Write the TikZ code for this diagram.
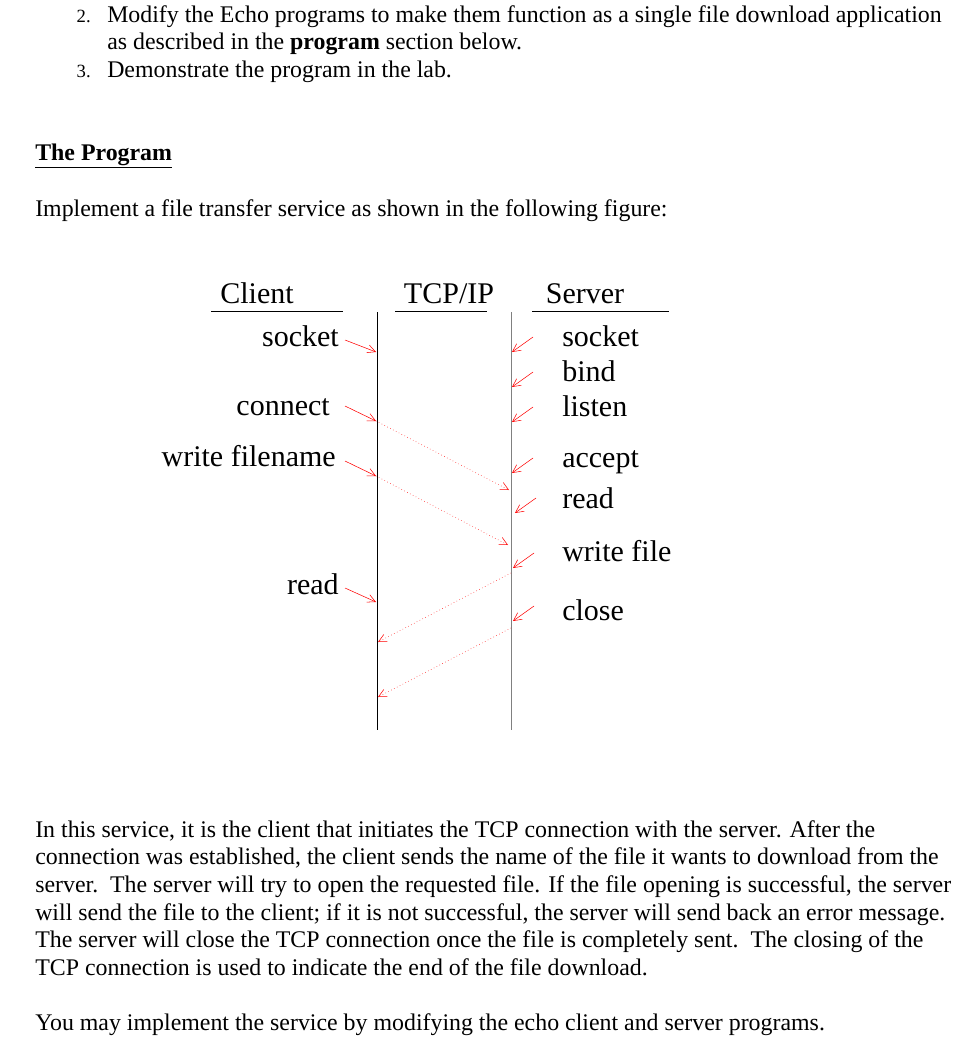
\documentclass[tikz,border=0pt]{standalone}
\usepackage{fontspec}
\setmainfont{Liberation Serif}
\usetikzlibrary{arrows.meta}
\begin{document}
\begin{tikzpicture}[x=0.75pt,y=-0.75pt,
  body/.style={anchor=base west,inner sep=0pt,font=\fontsize{17.9}{20}\selectfont},
  num/.style={anchor=base east,inner sep=0pt,font=\fontsize{14}{16}\selectfont},
  lbl/.style={inner sep=0pt,font=\fontsize{22.5}{26}\selectfont},
  lblR/.style={lbl,anchor=base east},
  lblL/.style={lbl,anchor=base west},
  ra/.style={red,line width=0.4pt,-{Straight Barb[length=6pt,width=6pt]}},
  rd/.style={red,line width=0.4pt,dotted,-{Straight Barb[length=6pt,width=6pt]}}]
\useasboundingbox (0,0) rectangle (962,1042);
% header text
\node[num] (n2) at (91,22) {2.};
\node[body] (t1) at (107,22) {Modify the Echo programs to make them function as a single file download application};
\node[body] (t2) at (107,49) {as described in the \textbf{program} section below.};
\node[num] (n3) at (91,77) {3.};
\node[body] (t3) at (107,77) {Demonstrate the program in the lab.};
\node[body] (h) at (35,160) {\textbf{\underline{The Program}}};
\node[body] (t4) at (35,216) {Implement a file transfer service as shown in the following figure:};
% diagram headers
\node[lbl,anchor=base] (cl) at (257,303) {Client};
\node[lbl,anchor=base] (tcp) at (449,303) {TCP/IP};
\node[lbl,anchor=base] (sv) at (585,303) {Server};
\draw[line width=0.5pt] (211,311) -- (343,311) (395,311) -- (487,311) (532,311) -- (669,311);
\coordinate (c0) at (377,312); \coordinate (c1) at (377,730);
\coordinate (s0) at (511,312); \coordinate (s1) at (511,730);
\draw[line width=0.6pt] (c0) -- (c1);
\draw[gray,line width=0.6pt] (s0) -- (s1);
% client labels
\node[lblR] (csock) at (339,346) {socket};
\node[lblR] (ccon) at (330,415) {connect};
\node[lblR] (cwf) at (336,466) {write filename};
\node[lblR] (crd) at (339,594) {read};
\coordinate (ca1) at (376,352); \coordinate (ca2) at (376,421);
\coordinate (ca3) at (376,476); \coordinate (ca4) at (376,602);
\draw[ra] (345,340) -- (ca1);
\draw[ra] (345,406) -- (ca2);
\draw[ra] (345,461) -- (ca3);
\draw[ra] (345,588) -- (ca4);
% server labels
\node[lblL] (ssock) at (562,346) {socket};
\node[lblL] (sbind) at (562,381) {bind};
\node[lblL] (slist) at (562,416) {listen};
\node[lblL] (sacc) at (562,467) {accept};
\node[lblL] (sread) at (562,508) {read};
\node[lblL] (swf) at (562,561) {write file};
\node[lblL] (sclo) at (562,620) {close};
\draw[ra] (533,337) -- (512,352);
\draw[ra] (533,372) -- (512,387);
\draw[ra] (533,407) -- (512,422);
\draw[ra] (533,458) -- (512,473);
\draw[ra] (536,498) -- (515,513);
\draw[ra] (534,553) -- (513,568);
\draw[ra] (534,606) -- (513,621);
% dotted messages
\coordinate (m1) at (509,490); \coordinate (m2) at (508,545);
\coordinate (m3) at (511,573); \coordinate (m4) at (511,628);
\coordinate (r1) at (378,642); \coordinate (r2) at (378,697);
\draw[rd] (ca2) -- (m1);
\draw[rd] (ca3) -- (m2);
\draw[rd] (m3) -- (r1);
\draw[rd] (m4) -- (r2);
% bottom paragraph
\node[body] (p1) at (35,837) {In this service, it is the client that initiates the TCP connection with the server. After the};
\node[body] (p2) at (35,864) {connection was established, the client sends the name of the file it wants to download from the};
\node[body] (p3) at (35,892) {server.\ \ The server will try to open the requested file. If the file opening is successful, the server};
\node[body] (p4) at (35,920) {will send the file to the client; if it is not successful, the server will send back an error message.};
\node[body] (p5) at (35,947) {The server will close the TCP connection once the file is completely sent.\ \ The closing of the};
\node[body] (p6) at (35,975) {TCP connection is used to indicate the end of the file download.};
\node[body] (p7) at (35,1030) {You may implement the service by modifying the echo client and server programs.};
\end{tikzpicture}
\end{document}
